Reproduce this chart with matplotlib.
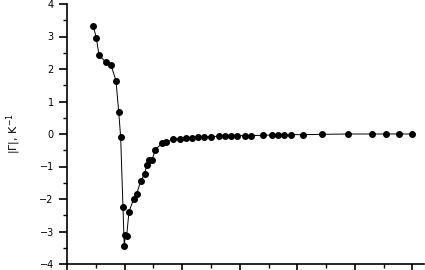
import matplotlib.pyplot as plt
from matplotlib.ticker import MultipleLocator, NullFormatter

# Data (x in major-tick units, y in K^-1)
x = [0.457, 0.509, 0.556, 0.677, 0.764, 0.851, 0.898, 0.932, 0.972, 0.995,
     1.012, 1.036, 1.076, 1.158, 1.210, 1.280, 1.349, 1.384, 1.429, 1.476,
     1.533, 1.644, 1.724, 1.845, 1.962, 2.066, 2.170, 2.274, 2.378, 2.500,
     2.639, 2.743, 2.847, 2.951, 3.090, 3.194, 3.403, 3.559, 3.663, 3.767,
     3.889, 4.097, 4.427, 4.878, 5.295, 5.538, 5.764, 5.990]
y = [3.32, 2.96, 2.42, 2.21, 2.12, 1.64, 0.68, -0.10, -2.25, -3.45,
     -3.11, -3.14, -2.39, -2.00, -1.84, -1.45, -1.22, -0.96, -0.80, -0.80,
     -0.49, -0.29, -0.25, -0.16, -0.14, -0.12, -0.11, -0.09, -0.08, -0.08,
     -0.07, -0.06, -0.06, -0.05, -0.05, -0.05, -0.04, -0.03, -0.03, -0.03,
     -0.02, -0.02, -0.01, 0.0, 0.0, 0.0, 0.0, 0.0]

yticks = [-4, -3, -2, -1, 0, 1, 2, 3, 4]

fig = plt.figure(figsize=(4.25, 2.7), dpi=100)
# axes top kept a few pixels below the edge so the "4" label stays inside
ax = fig.add_axes([67 / 425, 6 / 270, 357 / 425, 260 / 270])

ax.plot(x, y, color='black', lw=0.7, marker='o', markersize=4)

ax.set_xlim(0, 6.2)
ax.set_ylim(-4, 4)
ax.xaxis.set_major_locator(MultipleLocator(1))
ax.xaxis.set_minor_locator(MultipleLocator(0.5))
ax.xaxis.set_major_formatter(NullFormatter())
ax.set_yticks(yticks)
ax.yaxis.set_minor_locator(MultipleLocator(0.5))
ax.tick_params(which='major', length=6, width=1.2, labelsize=7)
ax.tick_params(which='minor', length=3, width=1)

for side in ['top', 'right']:
    ax.spines[side].set_visible(False)
for side in ['left', 'bottom']:
    ax.spines[side].set_linewidth(1.2)

ax.set_ylabel(r'$|\Gamma|$, K$^{-1}$', fontsize=8, labelpad=12)

plt.savefig('out.png', dpi=100)
